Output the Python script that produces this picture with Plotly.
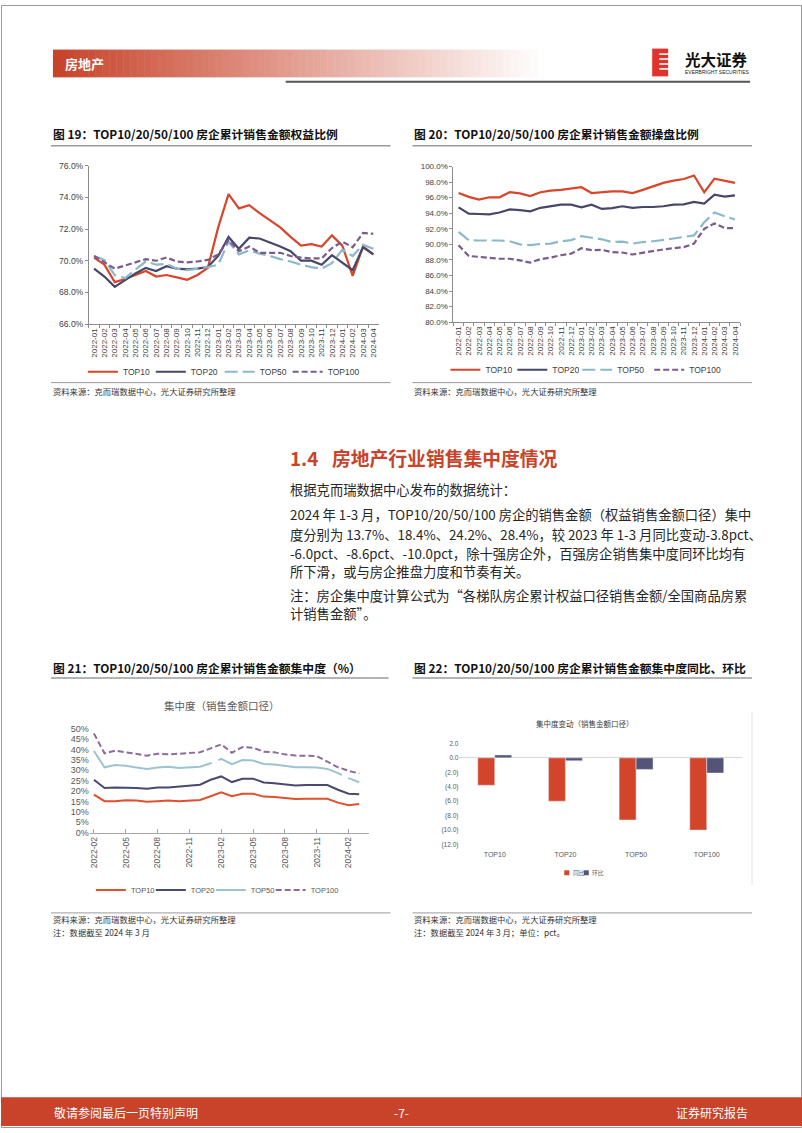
import plotly.graph_objects as go

W, H = 802, 1133


def X(p):
    return p / W


def Y(p):
    return 1 - p / H


def month_labels(start_y, start_m, n):
    out = []
    y, m = start_y, start_m
    for _ in range(n):
        out.append(f"{y}-{m:02d}")
        m += 1
        if m > 12:
            m = 1
            y += 1
    return out


# ---------------- data ----------------
series_names = ["TOP10", "TOP20", "TOP50", "TOP100"]

# Fig 19: equity ratio of cumulative sales (%), 2022-01 .. 2024-04
months_a = month_labels(2022, 1, 28)
equity_top10 = [70.2, 69.75, 68.65, 68.85, 69.1, 69.35, 69.0, 69.1, 68.95, 68.8, 69.1, 69.55,
                72.1, 74.2, 73.3, 73.5, 73.0, 72.55, 72.1, 71.5, 70.95, 71.05, 70.9, 71.6,
                70.95, 69.05, 70.9, 70.4]
equity_top20 = [69.5, 69.0, 68.35, 68.8, 69.2, 69.55, 69.35, 69.65, 69.5, 69.45, 69.5, 69.6,
                70.3, 71.5, 70.75, 71.45, 71.4, 71.15, 70.9, 70.6, 70.0, 70.0, 69.75, 70.35,
                69.85, 69.4, 70.85, 70.4]
equity_top50 = [70.3, 70.05, 69.1, 68.9, 69.45, 69.95, 69.75, 69.8, 69.5, 69.4, 69.5, 69.6,
                69.75, 71.2, 70.4, 70.65, 70.45, 70.3, 70.1, 69.95, 69.75, 69.6, 69.5, 69.85,
                70.7, 70.3, 71.0, 70.75]
equity_top100 = [70.3, 69.9, 69.5, 69.7, 69.9, 70.1, 70.0, 70.2, 69.95, 69.9, 69.95, 70.05,
                 70.4, 71.3, 70.6, 70.9, 70.5, 70.5, 70.5, 70.3, 70.2, 70.15, 70.15, 70.8,
                 71.2, 70.85, 71.75, 71.7]

# Fig 20: operating ratio of cumulative sales (%), 2022-01 .. 2024-04
oper_top10 = [96.6, 96.1, 95.75, 96.05, 96.05, 96.7, 96.55, 96.2, 96.7, 96.9, 97.0, 97.15,
              97.35, 96.6, 96.7, 96.8, 96.8, 96.6, 97.0, 97.45, 97.9, 98.2, 98.4, 98.85,
              96.7, 98.45, 98.2, 97.9]
oper_top20 = [94.75, 93.95, 93.9, 93.85, 94.1, 94.5, 94.4, 94.25, 94.7, 94.9, 95.1, 95.1,
              94.75, 95.1, 94.55, 94.65, 94.9, 94.7, 94.8, 94.8, 94.9, 95.1, 95.15, 95.45,
              95.25, 96.4, 96.15, 96.3]
oper_top50 = [91.6, 90.55, 90.5, 90.5, 90.5, 90.4, 90.0, 89.9, 90.05, 90.1, 90.4, 90.55,
              91.05, 90.85, 90.65, 90.3, 90.35, 90.1, 90.3, 90.4, 90.55, 90.75, 90.95, 91.15,
              92.85, 94.1, 93.6, 93.2]
oper_top100 = [89.9, 88.5, 88.4, 88.3, 88.15, 88.15, 87.95, 87.65, 88.1, 88.3, 88.6, 88.8,
               89.5, 89.25, 89.3, 89.0, 88.95, 88.7, 88.95, 89.15, 89.35, 89.5, 89.65, 90.1,
               92.0, 92.7, 92.1, 92.1]

# Fig 21: concentration (%), 2022-02 .. 2024-03
months_b = month_labels(2022, 2, 26)
ticks_b = ["2022-02", "2022-05", "2022-08", "2022-11", "2023-02", "2023-05", "2023-08",
           "2023-11", "2024-02"]
conc_top10 = [18.3, 15.1, 15.1, 15.6, 15.4, 14.8, 15.1, 15.4, 15.1, 15.4, 15.7, 17.5,
              19.4, 17.5, 18.7, 18.7, 17.3, 17.1, 16.7, 16.2, 16.3, 16.3, 16.3, 14.4,
              13.2, 13.7]
conc_top20 = [25.4, 21.4, 21.7, 21.7, 21.4, 21.1, 21.7, 21.7, 22.2, 22.7, 23.0, 25.4,
              27.0, 24.3, 25.9, 25.9, 24.1, 23.7, 23.3, 22.7, 22.9, 22.9, 22.9, 20.6,
              18.7, 18.4]
conc_top50 = [39.2, 31.4, 32.5, 32.1, 31.3, 30.6, 31.3, 31.6, 31.0, 31.4, 31.7, 33.3,
              35.4, 32.9, 34.9, 34.6, 33.0, 32.7, 32.1, 31.4, 31.4, 31.3, 30.6, 28.6,
              26.2, 24.2]
conc_top100 = [47.6, 38.1, 39.4, 38.6, 37.6, 37.0, 37.9, 37.6, 37.9, 38.4, 38.6, 40.5,
               42.4, 38.4, 41.1, 40.8, 38.9, 38.6, 37.6, 37.0, 37.0, 36.8, 34.1, 31.4,
               29.7, 28.4]

# Fig 22: change of concentration (pct)
yoy_change = [-3.8, -6.0, -8.6, -10.0]
mom_change = [0.4, -0.4, -1.6, -2.1]
change_ticks = [2, 0, -2, -4, -6, -8, -10, -12]
change_ticktext = ["2.0", "0.0", "(2.0)", "(4.0)", "(6.0)", "(8.0)", "(10.0)", "(12.0)"]

# ---------------- styles ----------------
CJK = "Noto Sans CJK SC"
LAT = "Liberation Sans"
RED = "#C8432A"

fig = go.Figure()

colors_a = ["#D9452B", "#48476A", "#8CB9C9", "#7B5B8E"]
dashes_a = ["solid", "solid", "13px,5px", "6px,3px"]
legends_19 = ["legend", "legend2", "legend3", "legend4"]
legends_20 = ["legend5", "legend6", "legend7", "legend8"]
legends_21 = ["legend9", "legend10", "legend11", "legend12"]
legend_x_19 = [82, 150, 219, 287]
legend_x_20 = [445, 512, 577, 649]
legend_x_21 = [90, 150, 210, 270]

for name, vals, c, d, lg in zip(series_names,
                                [equity_top10, equity_top20, equity_top50, equity_top100],
                                colors_a, dashes_a, legends_19):
    fig.add_trace(go.Scatter(x=months_a, y=vals, name=name, mode="lines",
                             line=dict(color=c, width=2.2, dash=d),
                             xaxis="x", yaxis="y", legend=lg))

for name, vals, c, d, lg in zip(series_names,
                                [oper_top10, oper_top20, oper_top50, oper_top100],
                                colors_a, dashes_a, legends_20):
    fig.add_trace(go.Scatter(x=months_a, y=vals, name=name, mode="lines",
                             line=dict(color=c, width=2.2, dash=d),
                             xaxis="x2", yaxis="y2", legend=lg))

colors_b = ["#E0502C", "#4A496E", "#9CC4D0", "#8E6A9E"]
dashes_b = ["solid", "solid", "128px,7px", "6px,3px"]
for name, vals, c, d, lg in zip(series_names,
                                [conc_top10, conc_top20, conc_top50, conc_top100],
                                colors_b, dashes_b, legends_21):
    fig.add_trace(go.Scatter(x=months_b, y=vals, name=name, mode="lines",
                             line=dict(color=c, width=2, dash=d),
                             xaxis="x3", yaxis="y3", legend=lg))

fig.add_trace(go.Bar(x=series_names, y=yoy_change, name="同比", marker_color="#D3452B",
                     xaxis="x4", yaxis="y4", showlegend=False))
fig.add_trace(go.Bar(x=series_names, y=mom_change, name="环比", marker_color="#555478",
                     xaxis="x4", yaxis="y4", showlegend=False))

tick_font = dict(family=LAT, size=8, color="#404040")
axis_line = "#8c8c8c"

legend_common = dict(orientation="h", xanchor="left", yanchor="middle",
                     bgcolor="rgba(0,0,0,0)", itemwidth=30, tracegroupgap=0)
f19 = dict(family=LAT, size=8.5, color="#404040")
f21 = dict(family=LAT, size=7.5, color="#595959")

legend_layout = {}
for lg, lx in zip(legends_19, legend_x_19):
    legend_layout[lg] = dict(x=X(lx), y=Y(370), font=f19, **legend_common)
for lg, lx in zip(legends_20, legend_x_20):
    legend_layout[lg] = dict(x=X(lx), y=Y(368), font=f19, **legend_common)
for lg, lx in zip(legends_21, legend_x_21):
    legend_layout[lg] = dict(x=X(lx), y=Y(893), font=f21, **legend_common)

fig.update_layout(
    width=W, height=H, autosize=False,
    margin=dict(l=0, r=0, t=0, b=0),
    paper_bgcolor="white", plot_bgcolor="white",
    barmode="group", bargap=0.52, bargroupgap=0,
    hovermode=False,
    xaxis=dict(domain=[X(88), X(378)], anchor="y", type="category", range=[-0.5, 27.5],
               tickangle=-90, tickfont=tick_font, showline=True, linecolor=axis_line,
               ticks="outside", ticklen=3, tickcolor=axis_line, tickson="boundaries",
               showgrid=False, zeroline=False),
    yaxis=dict(domain=[Y(322), Y(162)], anchor="x", range=[66, 76], dtick=2,
               tickformat=".1f", ticksuffix="%", tickfont=dict(family=LAT, size=8.5, color="#404040"),
               showline=True, linecolor=axis_line, ticks="outside", ticklen=3,
               tickcolor=axis_line, showgrid=False, zeroline=False),
    xaxis2=dict(domain=[X(453), X(740)], anchor="y2", type="category", range=[-0.5, 27.5],
                tickangle=-90, tickfont=tick_font, showline=True, linecolor=axis_line,
                ticks="outside", ticklen=3, tickcolor=axis_line, tickson="boundaries",
                showgrid=False, zeroline=False),
    yaxis2=dict(domain=[Y(320), Y(163)], anchor="x2", range=[80, 100], dtick=2,
                tickformat=".1f", ticksuffix="%", tickfont=dict(family=LAT, size=8, color="#404040"),
                showline=True, linecolor=axis_line, ticks="outside", ticklen=3,
                tickcolor=axis_line, showgrid=False, zeroline=False),
    xaxis3=dict(domain=[X(89), X(368)], anchor="y3", type="category", range=[-0.38, 25.88],
                tickvals=ticks_b, tickangle=-90,
                tickfont=dict(family=LAT, size=8.5, color="#595959"),
                showline=True, linecolor="#a6a6a6", ticks="inside", ticklen=4,
                tickcolor="#a6a6a6", showgrid=False, zeroline=False),
    yaxis3=dict(domain=[Y(835), Y(730)], anchor="x3", range=[0, 50], dtick=5,
                ticksuffix="%", tickfont=dict(family=LAT, size=9, color="#595959"),
                showline=False, ticks="", showgrid=False, zeroline=False),
    xaxis4=dict(domain=[X(459), X(742)], anchor="y4", type="category",
                tickfont=dict(family=LAT, size=7, color="#595959"),
                showline=False, ticks="", showgrid=False, zeroline=False,
                ticklabelstandoff=4),
    yaxis4=dict(domain=[Y(847), Y(745)], anchor="x4", range=[-12, 2],
                tickvals=change_ticks, ticktext=change_ticktext,
                tickfont=dict(family=LAT, size=6.5, color="#595959"),
                showline=False, ticks="", showgrid=False,
                zeroline=True, zerolinecolor="#d9d9d9", zerolinewidth=1),
    **legend_layout,
)

shapes = []
annotations = []


def line(x0, y0, x1, y1, color, width):
    shapes.append(dict(type="line", xref="paper", yref="paper", x0=X(x0), y0=Y(y0),
                       x1=X(x1), y1=Y(y1), line=dict(color=color, width=width)))


def rect(x0, y0, x1, y1, fill, lw=0, lc=None):
    shapes.append(dict(type="rect", xref="paper", yref="paper", x0=X(x0), y0=Y(y0),
                       x1=X(x1), y1=Y(y1), fillcolor=fill,
                       line=dict(width=lw, color=lc or fill)))


def text(x, y, s, size, color="#262626", family=CJK, xanchor="left", yanchor="middle"):
    annotations.append(dict(xref="paper", yref="paper", x=X(x), y=Y(y), text=s,
                            showarrow=False, xanchor=xanchor, yanchor=yanchor,
                            font=dict(family=family, size=size, color=color)))


# page border
shapes.append(dict(type="rect", xref="paper", yref="paper", x0=X(0.5), y0=Y(1132.5),
                   x1=X(801.5), y1=Y(0.5), line=dict(color="#9a9a9a", width=1)))

# header gradient band
n = 70
x_start, x_end = 52, 545
c0 = (200, 67, 42)
for i in range(n):
    t = i / (n - 1)
    r = int(c0[0] + (255 - c0[0]) * t)
    g = int(c0[1] + (255 - c0[1]) * t)
    b = int(c0[2] + (255 - c0[2]) * t)
    xa = x_start + (x_end - x_start) * i / n
    xb = x_start + (x_end - x_start) * (i + 1) / n + 0.5
    rect(xa, 73, xb, 45, f"rgb({r},{g},{b})")
text(62, 59, "<b>房地产</b>", 13, color="white")
line(285, 77.5, 750, 77.5, "#555555", 2)

# logo
rect(652, 72, 668, 44, "#E1322B")
for yy in [49.5, 54.5, 59.5, 64.5]:
    line(659, yy, 668.5, yy, "white", 1.6)
text(683, 54, "<b>光大证券</b>", 15.5, color="#111111")
text(683, 68, "EVERBRIGHT SECURITIES", 5, color="#222222", family=LAT)

# chart titles
text(50, 130, "<b>图 19：TOP10/20/50/100 房企累计销售金额权益比例</b>", 11.8, color="#111111")
line(50, 142, 390, 142, "#9a9a9a", 1.5)
text(412, 130, "<b>图 20：TOP10/20/50/100 房企累计销售金额操盘比例</b>", 11.8, color="#111111")
line(412, 142, 752, 142, "#9a9a9a", 1.5)

# sources for fig 19/20
line(50, 381, 390, 381, "#9a9a9a", 1)
line(412, 381, 752, 381, "#9a9a9a", 1)
text(50, 389, "资料来源：克而瑞数据中心，光大证券研究所整理", 8.3, color="#333333")
text(412, 389, "资料来源：克而瑞数据中心，光大证券研究所整理", 8.3, color="#333333")

# section heading and body text
text(287, 457, "<b>1.4</b>", 18.8, color=RED)
text(329, 457, "<b>房地产行业销售集中度情况</b>", 18.8, color=RED)
body = [
    (489, "根据克而瑞数据中心发布的数据统计："),
    (514, "2024 年 1-3 月，TOP10/20/50/100 房企的销售金额（权益销售金额口径）集中"),
    (534, "度分别为 13.7%、18.4%、24.2%、28.4%，较 2023 年 1-3 月同比变动-3.8pct、"),
    (553, "-6.0pct、-8.6pct、-10.0pct，除十强房企外，百强房企销售集中度同环比均有"),
    (572, "所下滑，或与房企推盘力度和节奏有关。"),
    (596, "注：房企集中度计算公式为“各梯队房企累计权益口径销售金额/全国商品房累"),
    (614, "计销售金额”。"),
]
for yy, s in body:
    text(287, yy, s, 13.3, color="#262626")

# fig 21/22 titles
text(50, 668, "<b>图 21：TOP10/20/50/100 房企累计销售金额集中度（%）</b>", 11.8, color="#111111")
line(50, 679, 388, 679, "#9a9a9a", 1.5)
text(412, 668, "<b>图 22：TOP10/20/50/100 房企累计销售金额集中度同比、环比</b>", 11.8, color="#111111")
line(412, 679, 752, 679, "#9a9a9a", 1.5)

text(221, 707, "集中度（销售金额口径）", 10.5, color="#595959", xanchor="center")
text(585, 725, "集中度变动（销售金额口径）", 7.5, color="#404040", xanchor="center")
line(752, 713, 752, 888, "#e3e3e3", 1)

# manual legend for fig 22
rect(564, 878, 569, 873, "#D3452B")
text(570.5, 875.5, "同比", 5.8, color="#595959")
rect(583.5, 878, 588.5, 873, "#555478")
text(589.5, 875.5, "环比", 5.8, color="#595959")

# sources for fig 21/22
line(50, 916, 390, 916, "#9a9a9a", 1)
line(412, 916, 752, 916, "#9a9a9a", 1)
text(50, 922, "资料来源：克而瑞数据中心，光大证券研究所整理", 8.3, color="#333333")
text(50, 935, "注：数据截至 2024 年 3 月", 8.3, color="#333333")
text(412, 922, "资料来源：克而瑞数据中心，光大证券研究所整理", 8.3, color="#333333")
text(412, 935, "注：数据截至 2024 年 3 月；单位：pct。", 8.3, color="#333333")

# footer
rect(0, 1131, 802, 1102, RED)
text(51, 1117, "敬请参阅最后一页特别声明", 12, color="white")
text(401, 1117, "-7-", 12, color="white", xanchor="center")
text(750, 1117, "证券研究报告", 12, color="white", xanchor="right")

fig.update_layout(shapes=shapes, annotations=annotations)

fig.write_html("out.html",
               config={"displayModeBar": False},
               post_script="document.body.style.margin='0px';"
                           "document.body.style.overflow='hidden';")
